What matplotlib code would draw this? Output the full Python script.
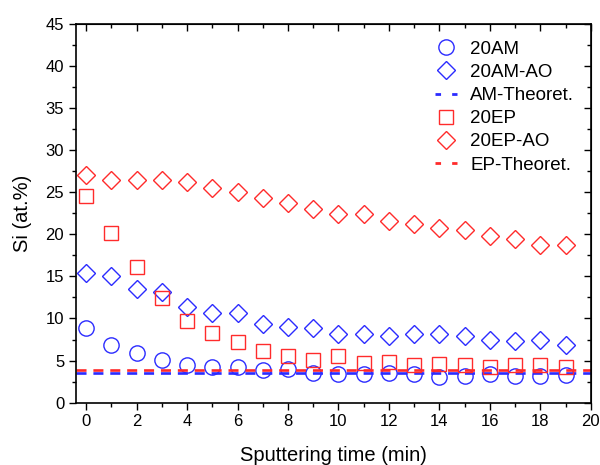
import matplotlib
matplotlib.use("Agg")
import matplotlib.pyplot as plt
from matplotlib.ticker import MultipleLocator
from matplotlib.lines import Line2D

plt.rcParams['font.family'] = ['Liberation Sans', 'DejaVu Sans']

time = list(range(20))
am = [8.9, 6.8, 5.9, 5.1, 4.5, 4.2, 4.2, 3.9, 4.05, 3.55, 3.45, 3.45, 3.55, 3.35, 3.1, 3.15, 3.35, 3.15, 3.15, 3.25]
am_ao = [15.4, 15.0, 13.5, 13.1, 11.4, 10.6, 10.6, 9.4, 9.0, 8.9, 8.2, 8.2, 7.9, 8.1, 8.15, 7.95, 7.5, 7.3, 7.5, 6.9]
ep = [24.5, 20.1, 16.1, 12.4, 9.75, 8.3, 7.2, 6.1, 5.6, 5.05, 5.5, 4.7, 4.8, 4.5, 4.65, 4.5, 4.25, 4.5, 4.45, 4.25]
ep_ao = [27.0, 26.5, 26.45, 26.45, 26.25, 25.5, 25.0, 24.35, 23.7, 23.0, 22.4, 22.4, 21.6, 21.25, 20.8, 20.5, 19.85, 19.4, 18.75, 18.75]
am_theor = 3.53
ep_theor = 3.85
labels = ['20AM', '20AM-AO', 'AM-Theoret.', '20EP', '20EP-AO', 'EP-Theoret.']

blue = '#2b2bff'
red = '#ff2b2b'

fig = plt.figure(figsize=(6.0, 4.65), dpi=100)
ax = fig.add_axes([0.1267, 0.134, 0.858, 0.815])

h1, = ax.plot(time, am, 'o', ls='none', ms=11, mfc='none', mec=blue, mew=1.0)
h2, = ax.plot(time, am_ao, 'D', ls='none', ms=9.5, mfc='none', mec=blue, mew=1.0)
ax.axhline(am_theor, color=blue, lw=1.9, ls=(0, (3.8, 2.6)))
h4, = ax.plot(time, ep, 's', ls='none', ms=9.5, mfc='none', mec=red, mew=1.0)
h5, = ax.plot(time, ep_ao, 'D', ls='none', ms=9.5, mfc='none', mec=red, mew=1.0)
ax.axhline(ep_theor, color=red, lw=1.9, ls=(0, (3.8, 2.6)))
h3 = Line2D([], [], color=blue, lw=2, ls=(0.5, (2.5, 4)))
h6 = Line2D([], [], color=red, lw=2, ls=(0.5, (2.5, 4)))

ax.set_xlim(-0.4, 20)
ax.set_ylim(0, 45)
ax.xaxis.set_major_locator(MultipleLocator(2))
ax.xaxis.set_minor_locator(MultipleLocator(1))
ax.yaxis.set_major_locator(MultipleLocator(5))
ax.yaxis.set_minor_locator(MultipleLocator(2.5))
ax.tick_params(which='major', direction='out', length=5, width=1, labelsize=12)
ax.tick_params(which='minor', direction='out', length=3, width=1)
for s in ax.spines.values():
    s.set_linewidth(1.2)

top = ax.secondary_xaxis('top')
top.xaxis.set_major_locator(MultipleLocator(2))
top.xaxis.set_minor_locator(MultipleLocator(1))
top.tick_params(which='major', direction='in', length=5, width=1, labeltop=False)
top.tick_params(which='minor', direction='in', length=3, width=1)
right = ax.secondary_yaxis('right')
right.yaxis.set_major_locator(MultipleLocator(5))
right.yaxis.set_minor_locator(MultipleLocator(2.5))
right.tick_params(which='major', direction='in', length=5, width=1, labelright=False)
right.tick_params(which='minor', direction='in', length=3, width=1)

ax.set_xlabel('Sputtering time (min)', fontsize=14.5, labelpad=12)
ax.set_ylabel('Si (at.%)', fontsize=14.5, labelpad=10)

leg = ax.legend([h1, h2, h3, h4, h5, h6], labels, loc='upper left', frameon=False,
                fontsize=13.5, handlelength=1.2, handletextpad=0.7, labelspacing=0.32,
                borderaxespad=0.0, borderpad=0.0, bbox_to_anchor=(0.697, 0.955))

fig.savefig('out.png', dpi=100)
